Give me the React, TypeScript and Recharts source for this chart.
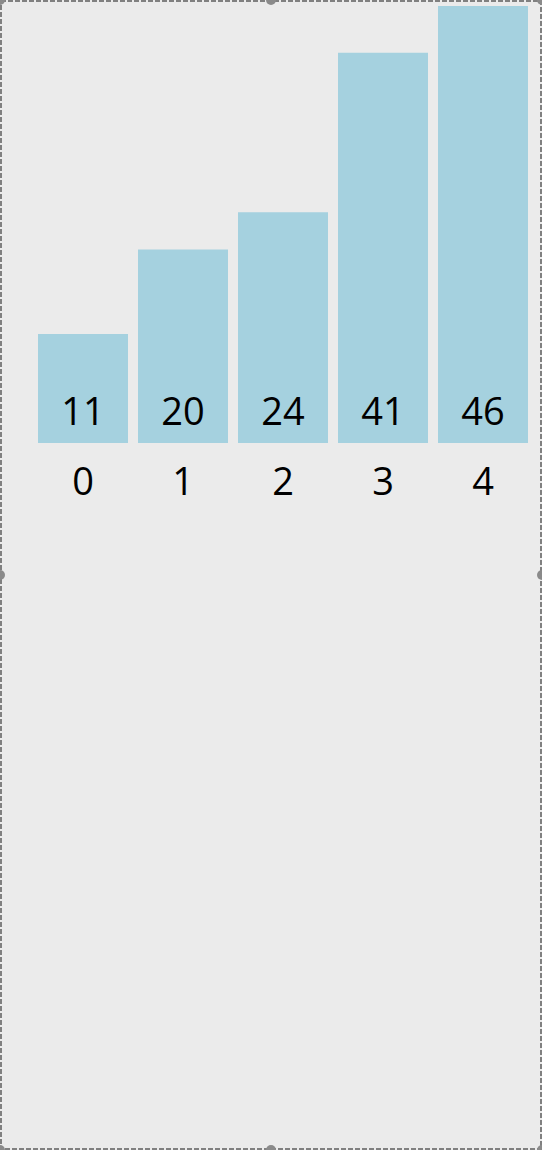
import { Bar, BarChart, LabelList, Rectangle, XAxis, YAxis } from "recharts"

const categories = ["0", "1", "2", "3", "4"]
const values = [11, 20, 24, 41, 46]

const WIDTH = 542
const HEIGHT = 1150
const FONT = "'Open Sans', 'Noto Sans', sans-serif"

// bars run a few px past the zero line in the original
const OVERHANG = 6

const data = categories.map((name, i) => ({ name, value: values[i] }))

function TallBar(props: any) {
  const { x, y, width, height, fill } = props
  return <Rectangle x={x} y={y} width={width} height={height + OVERHANG} fill={fill} />
}

const handles = [
  [0, 0], [WIDTH / 2, 0], [WIDTH, 0],
  [0, HEIGHT / 2], [WIDTH, HEIGHT / 2],
  [0, HEIGHT], [WIDTH / 2, HEIGHT], [WIDTH, HEIGHT],
]

export default function App() {
  return (
    <div style={{ position: "absolute", left: 0, top: 0, width: WIDTH, height: HEIGHT, background: "#ebebeb" }}>
      <BarChart
        width={WIDTH}
        height={HEIGHT}
        data={data}
        margin={{ top: 6, right: 9, left: 33, bottom: HEIGHT - 437 - 60 }}
        barCategoryGap={5}
      >
        <XAxis
          dataKey="name"
          axisLine={false}
          tickLine={false}
          height={60}
          tickMargin={25}
          tick={{ fill: "#000", fontSize: 38, fontFamily: FONT }}
        />
        <YAxis hide domain={[0, 46]} />
        <Bar dataKey="value" fill="#a5d1df" isAnimationActive={false} shape={<TallBar />}>
          <LabelList
            dataKey="value"
            position="insideBottom"
            offset={12}
            fill="#000"
            fontSize={38}
            fontFamily={FONT}
          />
        </Bar>
      </BarChart>
      <svg width={WIDTH} height={HEIGHT} style={{ position: "absolute", left: 0, top: 0, pointerEvents: "none" }}>
        <rect x={1} y={1} width={WIDTH - 2} height={HEIGHT - 2} fill="none" stroke="#808080" strokeWidth={2} strokeDasharray="5 2" />
        {handles.map(([cx, cy], i) => (
          <circle key={i} cx={cx} cy={cy} r={5} fill="#8a8a8a" />
        ))}
      </svg>
    </div>
  )
}
